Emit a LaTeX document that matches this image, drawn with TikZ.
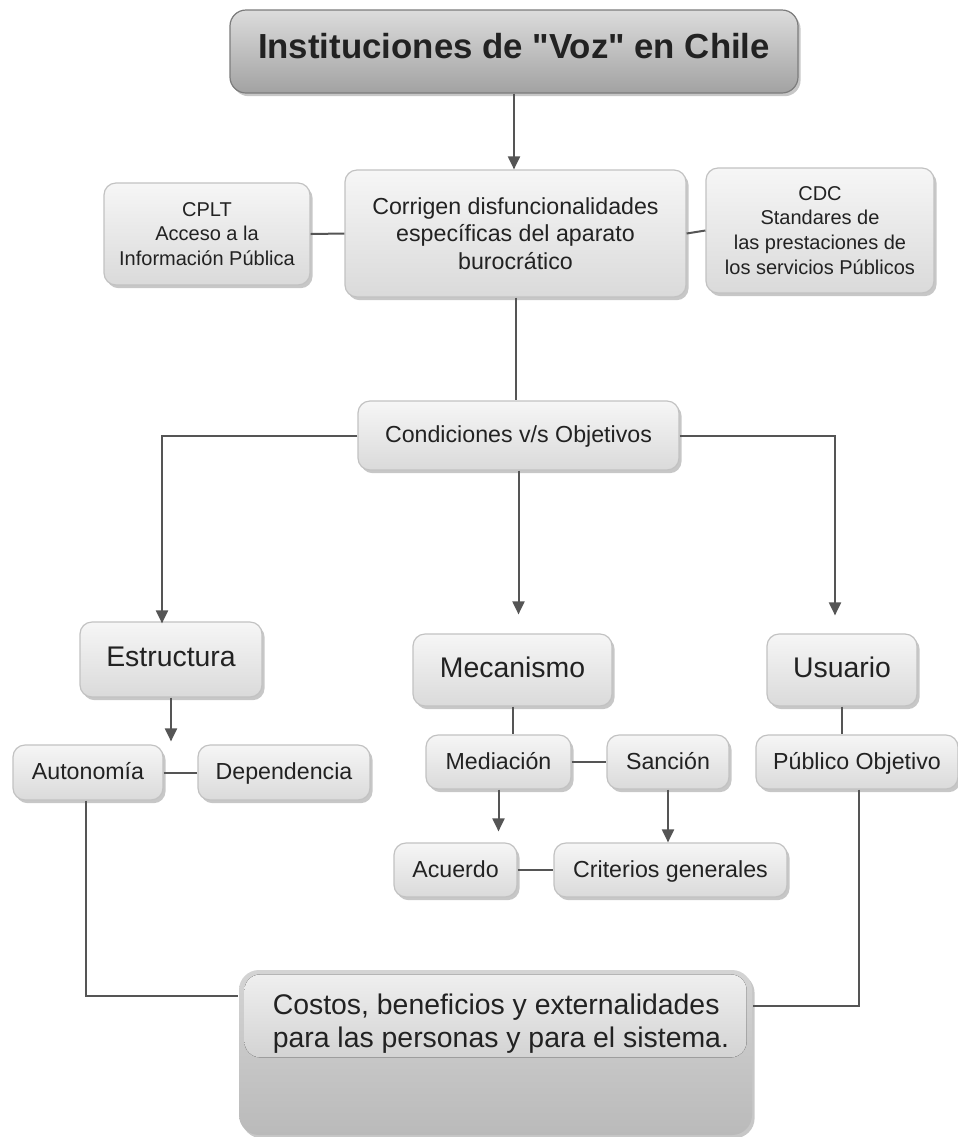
\documentclass[tikz,border=0pt]{standalone}
\usepackage{fontspec}
\setmainfont{Liberation Sans}
\newfontfamily\headfont{Liberation Sans}[Ligatures=TeXOff]
\usetikzlibrary{arrows.meta,shadows}

\definecolor{boxtop}{HTML}{F6F6F6}
\definecolor{boxbot}{HTML}{DADADA}
\definecolor{boxline}{HTML}{C2C2C2}
\definecolor{lncol}{HTML}{555555}
\definecolor{txt}{HTML}{222222}
\definecolor{ttop}{HTML}{DCDCDC}
\definecolor{tbot}{HTML}{A2A2A2}
\definecolor{tline}{HTML}{7C7C7C}
\definecolor{ctop}{HTML}{D4D4D4}
\definecolor{cbot}{HTML}{BABABA}
\definecolor{hltop}{HTML}{EFEFEF}
\definecolor{hlbot}{HTML}{D3D3D3}

\newcommand{\fsmall}{\fontsize{10}{12.4}\selectfont}
\newcommand{\fmid}{\fontsize{11.6}{13.8}\selectfont}
\newcommand{\fbig}{\fontsize{14.2}{16.5}\selectfont}

\tikzset{
  box/.style={rectangle, rounded corners=6pt, draw=boxline, line width=0.6pt,
    top color=boxtop, bottom color=boxbot, inner sep=0pt, align=center, text=txt,
    drop shadow={shadow xshift=1.3pt, shadow yshift=-1.6pt, fill=black, opacity=0.22}},
  oneline/.style={text height=0.92em, text depth=0.2em},
  ln/.style={draw=lncol, line width=1pt},
  arr/.style={ln, -{Triangle[width=6pt,length=6.5pt]}},
}

\begin{document}
\begin{tikzpicture}[x=0.5pt,y=-0.5pt]
  \useasboundingbox[fill=white] (0,0) rectangle (958,1137);

  % heading
  \node[box, oneline, draw=tline, top color=ttop, bottom color=tbot, rounded corners=8pt,
        minimum width=284pt, minimum height=41.5pt,
        font=\headfont\fontsize{17.4}{20}\selectfont\bfseries] (title) at (514,51.5)
        {Instituciones de "Voz" en Chile};

  % first row
  \node[box, minimum width=170.5pt, minimum height=63.5pt, font=\fmid] (corr) at (515.5,233.5)
        {Corrigen disfuncionalidades\\específicas del aparato\\burocrático};
  \node[box, minimum width=103pt, minimum height=51pt, font=\fsmall] (cplt) at (207,234)
        {CPLT\\Acceso a la\\Información Pública};
  \node[box, minimum width=114pt, minimum height=62.5pt, font=\fsmall] (cdc) at (820,230.5)
        {CDC\\Standares de\\las prestaciones de\\los servicios Públicos};

  \node[box, oneline, minimum width=160.5pt, minimum height=34.5pt, font=\fmid] (cond) at (518.5,435.5)
        {Condiciones v/s Objetivos};

  % three branches
  \node[box, oneline, minimum width=91pt, minimum height=37.5pt, font=\fbig] (estr) at (171,659.5) {Estructura};
  \node[box, oneline, minimum width=99.5pt, minimum height=36pt, font=\fbig] (meca) at (512.5,670) {Mecanismo};
  \node[box, oneline, minimum width=75pt, minimum height=36pt, font=\fbig] (usu) at (842,670) {Usuario};

  \node[box, oneline, minimum width=75pt, minimum height=27.5pt, font=\fmid] (auto) at (88,772.5) {Autonomía};
  \node[box, oneline, minimum width=86pt, minimum height=27.5pt, font=\fmid] (dep) at (284,772.5) {Dependencia};
  \node[box, oneline, minimum width=72.5pt, minimum height=27pt, font=\fmid] (med) at (498.5,762) {Mediación};
  \node[box, oneline, minimum width=61pt, minimum height=27pt, font=\fmid] (san) at (668,762) {Sanción};
  \node[box, oneline, minimum width=101pt, minimum height=27pt, font=\fmid] (pub) at (857,762) {Público Objetivo};
  \node[box, oneline, minimum width=61.5pt, minimum height=27pt, font=\fmid] (acu) at (455.5,870) {Acuerdo};
  \node[box, oneline, minimum width=116.5pt, minimum height=27pt, font=\fmid] (crit) at (670.5,870) {Criterios generales};

  % closing box with glossy upper band
  \node[box, draw=none, top color=ctop, bottom color=cbot, rounded corners=10pt,
        minimum width=256.5pt, minimum height=82.5pt] (cost) at (495.5,1052.5) {};
  \fill[rounded corners=8pt, top color=hltop, bottom color=hlbot]
        ([xshift=3pt,yshift=-2.5pt]cost.north west) rectangle ([xshift=-3pt,yshift=-44pt]cost.north east);
  \node[font=\fbig, text=txt, align=left, anchor=north west, inner sep=0pt] (costtxt)
        at ([xshift=17pt,yshift=-12pt]cost.north west)
        {Costos, beneficios y externalidades\\para las personas y para el sistema.};

  % connectors
  \draw[arr] (title.south) -- (title.south |- corr.north);
  \draw[ln] (cplt.east) -- (corr.west);
  \draw[ln] (corr.east) -- (cdc.west);
  \draw[ln] (corr.south) -- (corr.south |- cond.north);

  \draw[arr] (cond.west) -| ([xshift=-4.5pt,yshift=-1pt]estr.north);
  \draw[arr, shorten >=9.5pt] (cond.south) -- (cond.south |- meca.north);
  \draw[arr, shorten >=9pt] (cond.east) -| ([xshift=-3.5pt]usu.north);

  \draw[arr, shorten >=1.5pt] (estr.south) -- (estr.south |- auto.north);
  \draw[ln] (auto.east) -- (dep.west);

  \draw[ln] (meca.south) -- (meca.south |- med.north);
  \draw[ln] (med.east) -- (san.west);
  \draw[arr, shorten >=5.5pt] (med.south) -- (med.south |- acu.north);
  \draw[arr] (san.south) -- (san.south |- crit.north);
  \draw[ln] (acu.east) -- (crit.west);

  \draw[ln] (usu.south) -- (usu.south |- pub.north);

  \draw[ln] ([xshift=-1pt]auto.south) |- ([yshift=28.25pt]cost.west);
  \draw[ln] ([xshift=1pt]pub.south) |- ([yshift=23.25pt]cost.east);
\end{tikzpicture}
\end{document}
